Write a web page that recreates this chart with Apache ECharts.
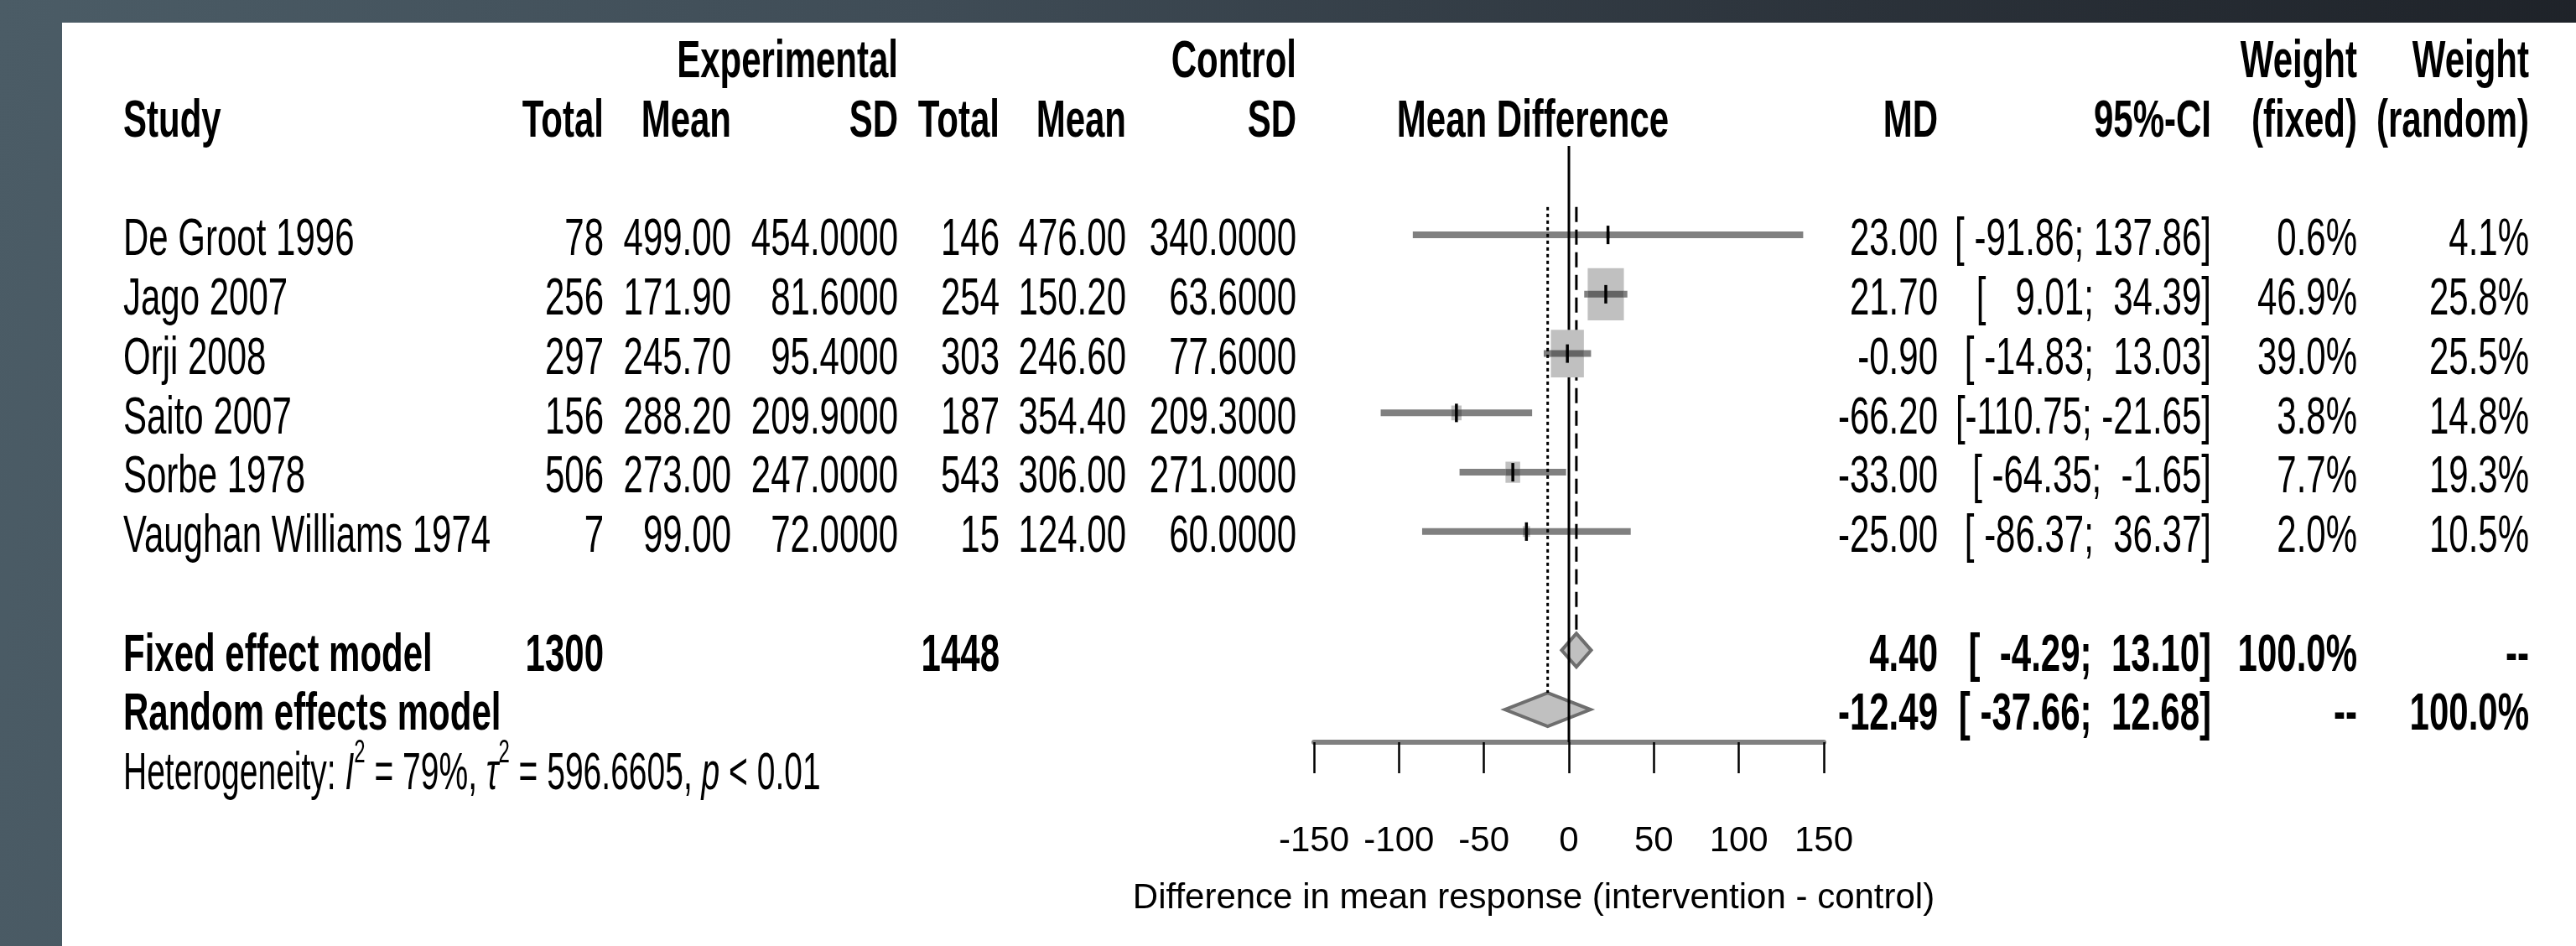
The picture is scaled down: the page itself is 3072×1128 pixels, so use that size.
<!DOCTYPE html>
<html>
<head>
<meta charset="utf-8">
<title>Forest plot - mean difference</title>
<script src="https://cdn.jsdelivr.net/npm/echarts@6/dist/echarts.min.js"></script>
<style>
  html, body { margin: 0; padding: 0; }
  body {
    width: 3072px; height: 1128px; overflow: hidden; position: relative;
    background: linear-gradient(95deg, #4b5c66 0%, #3f4c56 35%, #2b323a 70%, #1d2127 100%);
  }
  .panel { position: absolute; left: 74px; top: 27px; right: 0; bottom: 0; background: #fff; }
  #chart { position: absolute; left: 0; top: 0; width: 3072px; height: 1128px; }
</style>
</head>
<body>
<div class="panel"></div>
<div id="chart"></div>
<script>
// studies
const studies = ['De Groot 1996', 'Jago 2007', 'Orji 2008', 'Saito 2007', 'Sorbe 1978', 'Vaughan Williams 1974'];
const expTotal = [78, 256, 297, 156, 506, 7];
const expMean = [499.00, 171.90, 245.70, 288.20, 273.00, 99.00];
const expSD = [454.0, 81.6, 95.4, 209.9, 247.0, 72.0];
const ctrlTotal = [146, 254, 303, 187, 543, 15];
const ctrlMean = [476.00, 150.20, 246.60, 354.40, 306.00, 124.00];
const ctrlSD = [340.0, 63.6, 77.6, 209.3, 271.0, 60.0];
const md = [23.00, 21.70, -0.90, -66.20, -33.00, -25.00];
const ciLower = [-91.86, 9.01, -14.83, -110.75, -64.35, -86.37];
const ciUpper = [137.86, 34.39, 13.03, -21.65, -1.65, 36.37];
const weightFixed = [0.6, 46.9, 39.0, 3.8, 7.7, 2.0];
const weightRandom = [4.1, 25.8, 25.5, 14.8, 19.3, 10.5];

// pooled models
const models = ['Fixed effect model', 'Random effects model'];
const modelTotalExp = [1300, null];
const modelTotalCtrl = [1448, null];
const modelMD = [4.40, -12.49];
const modelLower = [-4.29, -37.66];
const modelUpper = [13.10, 12.68];
const modelWeightFixed = [100, null];
const modelWeightRandom = [null, 100];

// heterogeneity
const hetI2 = '79%';
const hetTau2 = '596.6605';
const hetP = '< 0.01';

// x axis
const xTicks = [-150, -100, -50, 0, 50, 100, 150];
const xTitle = 'Difference in mean response (intervention - control)';

// layout
const FONT = '"Liberation Sans", Arial, sans-serif';
const FONT_SIZE = 42;
const TEXT_STRETCH = 1.5;   // text in the picture is drawn tall
const TEXT_DY = 7;
const ROW_GROUP = -3, ROW_HEAD = -2, ROW_HET = 9;
const ROW_MODEL = [7, 8];
const COL = {
  study: 147, expTotal: 720, expMean: 872, expSD: 1071,
  ctrlTotal: 1192, ctrlMean: 1343, ctrlSD: 1546,
  plotHead: 1828, md: 2311, ci: 2637, wFixed: 2811, wRandom: 3016
};
const BOX_K = 6.3;          // square width per sqrt(weight)
const BOX_STRETCH = 1.44;
const DIAMOND_H = 20;

const chart = echarts.init(document.getElementById('chart'));

function textEl(x, y, text, align, bold, size) {
  return {
    type: 'text', x: x, y: y + TEXT_DY, scaleY: TEXT_STRETCH,
    style: {
      text: text, fill: '#000', fontFamily: FONT, fontSize: size || FONT_SIZE,
      fontWeight: bold ? 'bold' : 'normal', textAlign: align, textVerticalAlign: 'middle'
    }
  };
}

function ciText(lo, hi) {
  return '[' + lo.toFixed(2).padStart(7, ' ') + '; ' + hi.toFixed(2).padStart(6, ' ') + ']';
}

function pct(v) {
  return v == null ? '--' : v.toFixed(1) + '%';
}

function rowY(api) {
  return api.coord([0, api.value(1)])[1];
}

const option = {
  animation: false,
  grid: { left: 1567, top: 174, width: 608, height: 711, outerBoundsMode: 'none' },
  xAxis: {
    type: 'value',
    min: xTicks[0],
    max: xTicks[xTicks.length - 1],
    interval: xTicks[1] - xTicks[0],
    splitLine: { show: false },
    axisLine: { onZero: false, lineStyle: { color: '#808080', width: 6 } },
    axisTick: { length: 37, lineStyle: { color: '#000', width: 2.5 } },
    axisLabel: { margin: 97, color: '#000', fontFamily: FONT, fontSize: FONT_SIZE },
    name: xTitle,
    nameLocation: 'middle',
    nameGap: 165,
    nameTextStyle: { color: '#000', fontFamily: FONT, fontSize: FONT_SIZE, padding: [0, 84, 0, 0] }
  },
  yAxis: { type: 'value', inverse: true, min: -1.5, max: 8.55, show: false },
  series: [
    {
      // confidence interval lines
      type: 'custom', name: 'ci', clip: false, silent: true, z: 2,
      data: studies.map((s, i) => [md[i], i, ciLower[i], ciUpper[i]]),
      renderItem(params, api) {
        const row = api.value(1);
        const lo = api.coord([api.value(2), row]);
        const hi = api.coord([api.value(3), row]);
        return {
          type: 'line',
          shape: { x1: lo[0], y1: lo[1], x2: hi[0], y2: hi[1] },
          style: { stroke: '#808080', lineWidth: 8 }
        };
      }
    },
    {
      // pooled diamonds
      type: 'custom', name: 'models', clip: false, silent: true, z: 2,
      data: models.map((m, k) => [modelMD[k], ROW_MODEL[k], modelLower[k], modelUpper[k]]),
      renderItem(params, api) {
        const row = api.value(1);
        const c = api.coord([api.value(0), row]);
        const lo = api.coord([api.value(2), row]);
        const hi = api.coord([api.value(3), row]);
        return {
          type: 'polygon',
          shape: { points: [[lo[0], c[1]], [c[0], c[1] - DIAMOND_H], [hi[0], c[1]], [c[0], c[1] + DIAMOND_H]] },
          style: { fill: '#c0c0c0', stroke: '#6e6e6e', lineWidth: 4 }
        };
      }
    },
    {
      // no-effect line and pooled estimate lines
      type: 'custom', name: 'refLines', clip: false, silent: true, z: 3,
      data: [[0, -1.5, 8.55, 0], [modelMD[0], -0.47, ROW_MODEL[0], 1], [modelMD[1], -0.47, ROW_MODEL[1], 2]],
      renderItem(params, api) {
        const kind = api.value(3);
        const top = api.coord([api.value(0), api.value(1)]);
        const bottom = api.coord([api.value(0), api.value(2)]);
        const y2 = kind === 0 ? bottom[1] : bottom[1] - DIAMOND_H;
        const dash = kind === 0 ? null : (kind === 1 ? [18, 9] : [4, 4]);
        return {
          type: 'line',
          shape: { x1: top[0], y1: top[1], x2: top[0], y2: y2 },
          style: { stroke: '#000', lineWidth: 3, lineDash: dash }
        };
      }
    },
    {
      // weight squares with the part of the interval they cover, and point estimates
      type: 'custom', name: 'studies', clip: false, silent: true, z: 4,
      data: studies.map((s, i) => [md[i], i, ciLower[i], ciUpper[i], weightFixed[i]]),
      renderItem(params, api) {
        const row = api.value(1);
        const c = api.coord([api.value(0), row]);
        const lo = api.coord([api.value(2), row]);
        const hi = api.coord([api.value(3), row]);
        const w = BOX_K * Math.sqrt(api.value(4));
        const h = w * BOX_STRETCH;
        const x1 = Math.max(lo[0], c[0] - w / 2);
        const x2 = Math.min(hi[0], c[0] + w / 2);
        return {
          type: 'group',
          children: [
            { type: 'rect', shape: { x: c[0] - w / 2, y: c[1] - h / 2, width: w, height: h }, style: { fill: '#c0c0c0' } },
            { type: 'line', shape: { x1: x1, y1: c[1], x2: x2, y2: c[1] }, style: { stroke: '#646464', lineWidth: 8 } },
            { type: 'line', shape: { x1: c[0], y1: c[1] - 11, x2: c[0], y2: c[1] + 11 }, style: { stroke: '#000', lineWidth: 3.5 } }
          ]
        };
      }
    },
    {
      // column headers
      type: 'custom', name: 'header', clip: false, silent: true, z: 5,
      data: [[0, ROW_GROUP], [0, ROW_HEAD]],
      renderItem(params, api) {
        const y = rowY(api);
        if (params.dataIndex === 0) {
          return { type: 'group', children: [
            textEl(COL.expSD, y, 'Experimental', 'right', true),
            textEl(COL.ctrlSD, y, 'Control', 'right', true),
            textEl(COL.wFixed, y, 'Weight', 'right', true),
            textEl(COL.wRandom, y, 'Weight', 'right', true)
          ] };
        }
        return { type: 'group', children: [
          textEl(COL.study, y, 'Study', 'left', true),
          textEl(COL.expTotal, y, 'Total', 'right', true),
          textEl(COL.expMean, y, 'Mean', 'right', true),
          textEl(COL.expSD, y, 'SD', 'right', true),
          textEl(COL.ctrlTotal, y, 'Total', 'right', true),
          textEl(COL.ctrlMean, y, 'Mean', 'right', true),
          textEl(COL.ctrlSD, y, 'SD', 'right', true),
          textEl(COL.plotHead, y, 'Mean Difference', 'center', true),
          textEl(COL.md, y, 'MD', 'right', true),
          textEl(COL.ci, y, '95%-CI', 'right', true),
          textEl(COL.wFixed, y, '(fixed)', 'right', true),
          textEl(COL.wRandom, y, '(random)', 'right', true)
        ] };
      }
    },
    {
      // study rows
      type: 'custom', name: 'studyText', clip: false, silent: true, z: 5,
      data: studies.map((s, i) => [0, i]),
      renderItem(params, api) {
        const i = params.dataIndex;
        const y = rowY(api);
        return { type: 'group', children: [
          textEl(COL.study, y, studies[i], 'left'),
          textEl(COL.expTotal, y, String(expTotal[i]), 'right'),
          textEl(COL.expMean, y, expMean[i].toFixed(2), 'right'),
          textEl(COL.expSD, y, expSD[i].toFixed(4), 'right'),
          textEl(COL.ctrlTotal, y, String(ctrlTotal[i]), 'right'),
          textEl(COL.ctrlMean, y, ctrlMean[i].toFixed(2), 'right'),
          textEl(COL.ctrlSD, y, ctrlSD[i].toFixed(4), 'right'),
          textEl(COL.md, y, md[i].toFixed(2), 'right'),
          textEl(COL.ci, y, ciText(ciLower[i], ciUpper[i]), 'right'),
          textEl(COL.wFixed, y, pct(weightFixed[i]), 'right'),
          textEl(COL.wRandom, y, pct(weightRandom[i]), 'right')
        ] };
      }
    },
    {
      // pooled rows
      type: 'custom', name: 'modelText', clip: false, silent: true, z: 5,
      data: models.map((m, k) => [0, ROW_MODEL[k]]),
      renderItem(params, api) {
        const k = params.dataIndex;
        const y = rowY(api);
        const children = [
          textEl(COL.study, y, models[k], 'left', true),
          textEl(COL.md, y, modelMD[k].toFixed(2), 'right', true),
          textEl(COL.ci, y, ciText(modelLower[k], modelUpper[k]), 'right', true),
          textEl(COL.wFixed, y, pct(modelWeightFixed[k]), 'right', true),
          textEl(COL.wRandom, y, pct(modelWeightRandom[k]), 'right', true)
        ];
        if (modelTotalExp[k] != null) children.push(textEl(COL.expTotal, y, String(modelTotalExp[k]), 'right', true));
        if (modelTotalCtrl[k] != null) children.push(textEl(COL.ctrlTotal, y, String(modelTotalCtrl[k]), 'right', true));
        return { type: 'group', children: children };
      }
    },
    {
      // heterogeneity line
      type: 'custom', name: 'heterogeneity', clip: false, silent: true, z: 5,
      data: [[0, ROW_HET]],
      renderItem(params, api) {
        const y = rowY(api);
        const base = { fontFamily: FONT, fontSize: 39, fill: '#000', lineHeight: 56, textLineHeight: 56 };
        const sup = { fontFamily: FONT, fontSize: 24, fill: '#000', lineHeight: 24, textLineHeight: 24,
          verticalAlign: 'top', textVerticalAlign: 'top' };
        return {
          type: 'text', x: COL.study, y: y + TEXT_DY, scaleY: TEXT_STRETCH * 1.07,
          style: {
            text: 'Heterogeneity: {it|I}{sup|2} = ' + hetI2 + ', {it|\u03c4}{sup|2} = ' + hetTau2 + ', {it|p} ' + hetP,
            fill: '#000', fontFamily: FONT, fontSize: 39, lineHeight: 56, textLineHeight: 56,
            textAlign: 'left', textVerticalAlign: 'middle',
            rich: {
              it: Object.assign({ fontStyle: 'italic' }, base),
              sup: sup
            }
          }
        };
      }
    }
  ]
};

chart.setOption(option);
</script>
</body>
</html>
